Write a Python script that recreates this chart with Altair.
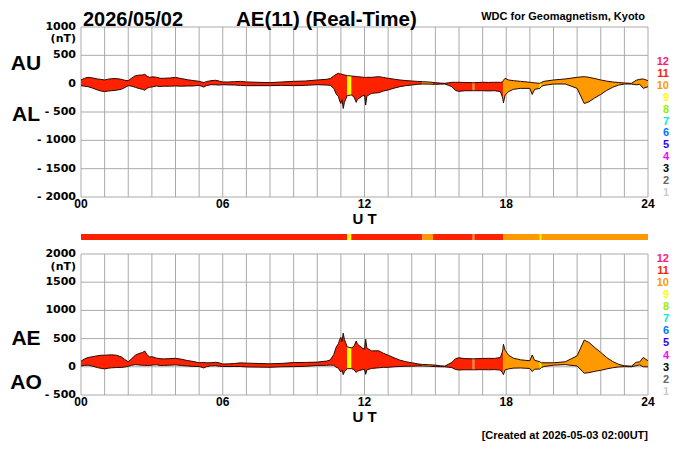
import altair as alt
import pandas as pd

# ---------------- data ----------------
hours = [0.00,0.15,0.30,0.50,0.70,0.85,1.00,1.15,1.30,1.50,1.70,1.85,2.00,2.15,2.30,2.45,2.60,2.70,2.80,2.90,
         3.05,3.20,3.35,3.50,3.75,4.00,4.25,4.50,4.75,5.00,5.10,5.20,5.30,5.50,5.70,5.85,6.00,6.25,6.50,6.75,
         7.00,7.50,8.00,8.50,9.00,9.50,10.00,10.40,10.55,10.70,10.80,10.90,10.95,11.00,11.05,11.10,11.15,11.27,11.44,11.55,
         11.65,11.70,11.80,11.90,12.00,12.05,12.10,12.30,12.45,12.60,12.80,13.00,13.25,13.50,13.75,14.00,14.25,14.45,14.70,14.90,
         15.00,15.20,15.40,15.55,15.70,15.85,16.00,16.25,16.58,16.65,17.00,17.25,17.50,17.75,17.85,17.88,17.95,18.10,18.30,18.60,
         19.00,19.10,19.20,19.42,19.48,19.60,20.00,20.50,21.00,21.30,21.50,21.75,22.00,22.25,22.50,22.75,23.00,23.30,23.50,23.65,
         23.80,24.00]
au = [65,95,112,100,83,75,65,80,88,90,77,60,53,100,140,150,153,165,130,112,
      120,112,95,95,100,110,90,70,55,41,30,18,35,53,60,45,30,30,35,40,
      30,24,18,30,41,47,65,77,90,136,165,183,175,171,165,160,155,142,136,130,
      128,124,120,115,112,110,112,112,118,124,110,94,80,65,55,47,40,35,30,22,
      18,10,6,15,24,24,24,20,18,18,24,22,24,24,30,60,94,65,53,41,
      24,20,15,6,20,41,65,83,112,124,112,90,65,45,30,20,12,6,60,77,
      83,53]
al = [-35,-45,-53,-80,-112,-130,-140,-130,-124,-115,-100,-70,-35,-45,-65,-85,-100,-115,-80,-65,
      -55,-41,-50,-45,-45,-40,-45,-41,-40,-30,-45,-60,-35,-18,-20,-25,-18,-22,-24,-30,
      -35,-35,-35,-30,-35,-30,-18,-25,-30,-83,-180,-230,-310,-350,-280,-437,-330,-210,-200,-230,
      -330,-277,-250,-220,-200,-378,-220,-170,-165,-160,-130,-112,-80,-53,-35,-24,-12,-6,-8,-10,
      -12,-8,-6,-30,-53,-120,-136,-125,-124,-124,-124,-128,-124,-140,-250,-340,-200,-140,-100,-83,
      -83,-190,-100,-85,-50,-30,-6,-6,-83,-350,-320,-250,-190,-120,-65,-25,-6,-6,-20,-10,
      -83,-53]

# number of contributing stations per interval
seg_start = [0.00, 11.27, 11.44, 14.45, 14.90, 16.58, 16.65, 17.88, 19.42, 19.48]
seg_end = [11.27, 11.44, 14.45, 14.90, 16.58, 16.65, 17.88, 19.42, 19.48, 24.00]
seg_stations = ["11", "9", "11", "10", "11", "10", "11", "10", "9", "10"]

station_labels = ["12", "11", "10", "9", "8", "7", "6", "5", "4", "3", "2", "1"]
station_colors = ["#ff1a75", "#ff2200", "#ff9900", "#ffff00", "#99ee00", "#00eecc",
                  "#0077ff", "#3300ff", "#ff00ff", "#000000", "#666666", "#cccccc"]

top_ticks = [1000, 500, 0, -500, -1000, -1500, -2000]
top_tick_labels = ["1000", "500", "0", "- 500", "- 1000", "- 1500", "- 2000"]
bot_ticks = [2000, 1500, 1000, 500, 0, -500]
bot_tick_labels = ["2000", "1500", "1000", "500", "0", "- 500"]
hour_grid = list(range(25))
hour_ticks = [0, 6, 12, 18, 24]
hour_tick_labels = ["00", "06", "12", "18", "24"]

# ---------------- tables ----------------
series = pd.DataFrame({"h": hours, "au": au, "al": al})
series["ae"] = series["au"] - series["al"]
series["ao"] = (series["au"] + series["al"]) / 2

rows = []
for i, (s, e, st) in enumerate(zip(seg_start, seg_end, seg_stations)):
    for h, u, l in zip(hours, au, al):
        if s - 1e-9 <= h <= e + 1e-9:
            rows.append({"seg": i, "st": st, "h": h, "au": u, "al": l,
                         "ae": u - l, "ao": (u + l) / 2})
area_df = pd.DataFrame(rows)
seg_df = pd.DataFrame({"s": seg_start, "e": seg_end, "st": seg_stations})
grid_df = pd.DataFrame({"h": hour_grid})
top_tick_df = pd.DataFrame({"v": top_ticks, "lab": top_tick_labels})
bot_tick_df = pd.DataFrame({"v": bot_ticks, "lab": bot_tick_labels})
hour_tick_df = pd.DataFrame({"h": hour_ticks, "lab": hour_tick_labels})
legend_df = pd.DataFrame({"lab": station_labels})

# ---------------- layout constants ----------------
W = 567
H = 368
TOP0, TOP1 = 0, 170
BOT0, BOT1 = 227, 368
GRID = "#aaaaaa"
EDGE = "#2a0800"
FONT = "Liberation Sans"
NUMFONT = "DejaVu Sans"

xs = alt.Scale(domain=[0, 24])
ys_top = alt.Scale(domain=[-2000, 1000], range=[TOP1, TOP0])
ys_bot = alt.Scale(domain=[-500, 2000], range=[BOT1, BOT0])
cscale = alt.Scale(domain=station_labels, range=station_colors)

X = lambda f: alt.X(f, type="quantitative", scale=xs, axis=None)


def panel(yscale, upper, lower, y0, y1, ticks_df, xlab_y, ut_y, nt_y):
    Y = lambda f: alt.Y(f, type="quantitative", scale=yscale, axis=None, stack=None)
    vgrid = alt.Chart(grid_df).mark_rule(color=GRID, strokeWidth=1).encode(
        x=X("h"), y=alt.value(y0), y2=alt.value(y1))
    hgrid = alt.Chart(ticks_df).mark_rule(color=GRID, strokeWidth=1).encode(
        y=Y("v"), x=alt.value(0), x2=alt.value(W))
    area = alt.Chart(area_df).mark_area(interpolate="linear").encode(
        x=X("h"), y=Y(upper), y2=alt.Y2(lower),
        color=alt.Color("st:N", scale=cscale, legend=None),
        detail="seg:N")
    line_u = alt.Chart(series).mark_line(color=EDGE, strokeWidth=1).encode(x=X("h"), y=Y(upper))
    line_l = alt.Chart(series).mark_line(color=EDGE, strokeWidth=1).encode(x=X("h"), y=Y(lower))
    ylab = alt.Chart(ticks_df).mark_text(align="right", baseline="middle", font=NUMFONT,
                                         fontSize=11, fontWeight="bold", color="#000").encode(
        y=Y("v"), x=alt.value(-5), text="lab:N")
    nt = alt.Chart(pd.DataFrame({"t": ["(nT)"]})).mark_text(
        align="right", baseline="middle", font=NUMFONT, fontSize=11, fontWeight="bold").encode(
        x=alt.value(-5), y=alt.value(nt_y), text="t:N")
    xlab = alt.Chart(hour_tick_df).mark_text(align="center", baseline="middle", font=FONT,
                                             fontSize=12, fontWeight="bold").encode(
        x=X("h"), y=alt.value(xlab_y), text="lab:N")
    ut = alt.Chart(pd.DataFrame({"t": ["U T"]})).mark_text(
        align="center", baseline="middle", font=FONT, fontSize=15, fontWeight="bold").encode(
        x=alt.value(W / 2), y=alt.value(ut_y), text="t:N")
    return alt.layer(vgrid, hgrid, area, line_u, line_l, ylab, nt, xlab, ut)


top = panel(ys_top, "au", "al", TOP0, TOP1, top_tick_df, 177, 191.5, 12)
bot = panel(ys_bot, "ae", "ao", BOT0, BOT1, bot_tick_df, 375, 390, 240)


def legend(r0, r1):
    return alt.Chart(legend_df).mark_text(align="right", baseline="middle", font=FONT,
                                          fontSize=11, fontWeight="bold").encode(
        y=alt.Y("lab:N", scale=alt.Scale(type="point", domain=station_labels, range=[r0, r1], padding=0),
                axis=None, sort=None),
        x=alt.value(588), text="lab:N",
        color=alt.Color("lab:N", scale=cscale, legend=None))


leg_top = legend(34.7, 166.3)
leg_bot = legend(232, 364.7)

bar = alt.Chart(seg_df).mark_rect().encode(
    x=X("s"), x2="e", y=alt.value(207), y2=alt.value(213),
    color=alt.Color("st:N", scale=cscale, legend=None))


def label(txt, x, y, size, align="left", baseline="alphabetic", font=FONT):
    return alt.Chart(pd.DataFrame({"t": [txt]})).mark_text(
        align=align, baseline=baseline, font=font, fontSize=size, fontWeight="bold", color="#000").encode(
        x=alt.value(x), y=alt.value(y), text="t:N")


texts = [
    label("2026/05/02", 2, -0.6, 20),
    label("AE(11) (Real-Time)", 155, -0.6, 20.5),
    label("WDC for Geomagnetism, Kyoto", 564, -7, 11, align="right"),
    label("AU", -55, 36.5, 21, align="center", baseline="middle"),
    label("AL", -55, 88, 21, align="center", baseline="middle"),
    label("AE", -55, 312, 21, align="center", baseline="middle"),
    label("AO", -55, 355.5, 21, align="center", baseline="middle"),
    label("[Created at 2026-05-03 02:00UT]", W, 412, 11, align="right"),
]

chart = alt.layer(top, bot, leg_top, leg_bot, bar, *texts).resolve_scale(
    y="independent"
).properties(
    width=W, height=H,
    autosize=alt.AutoSizeParams(type="none"),
    padding={"left": 73, "top": 19, "right": 30, "bottom": 47},
    background="white",
).configure_view(stroke=None)

chart.save("out.html", embed_options={"renderer": "svg", "actions": False})
